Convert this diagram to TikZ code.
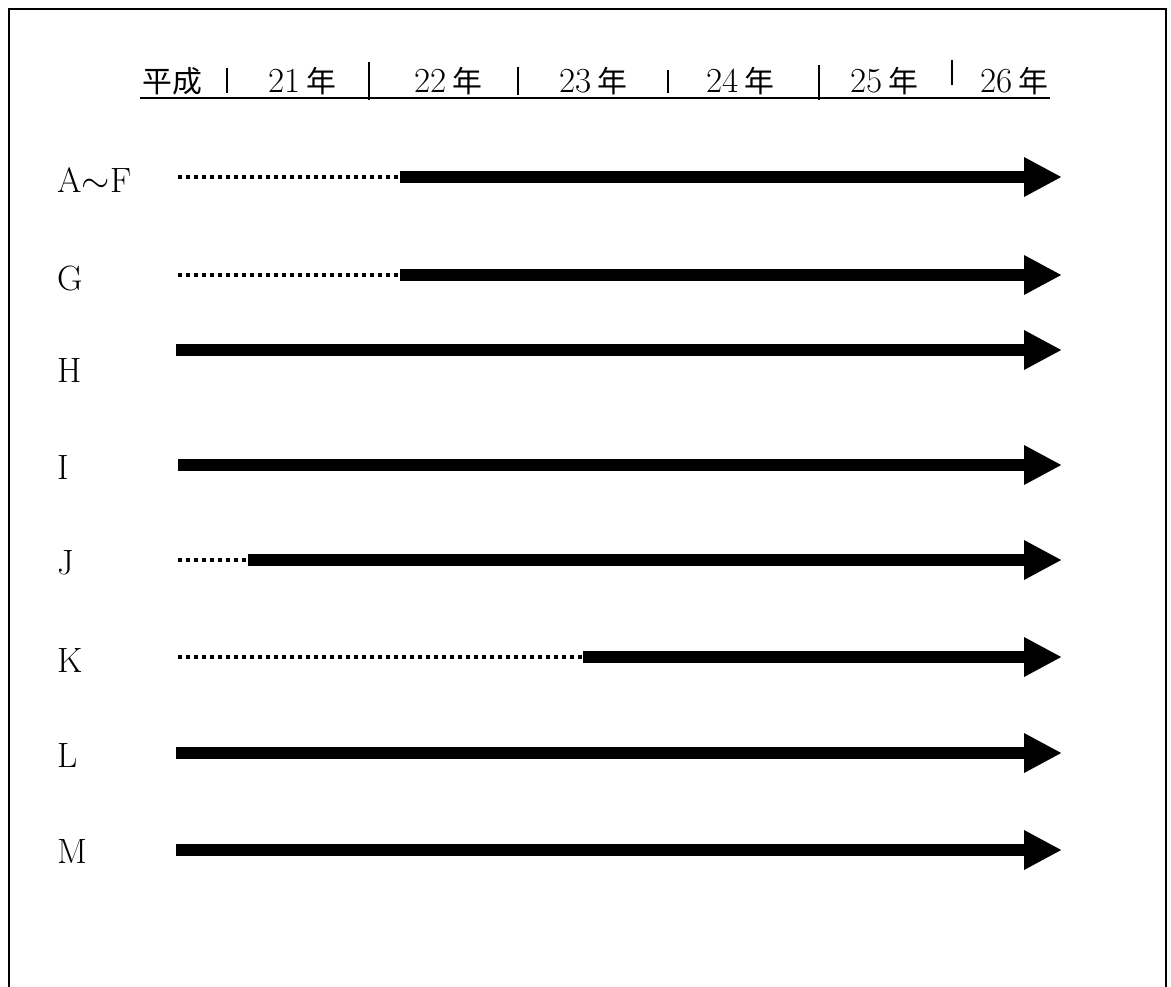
\documentclass[tikz,border=0pt]{standalone}
\usepackage{fontspec}
\newfontfamily\jp{Noto Sans CJK JP}
\usetikzlibrary{arrows.meta}

\begin{document}
\begin{tikzpicture}[x=0.02cm, y=-0.02cm,
    plan/.style={line width=0.24cm, -{Triangle[length=0.76cm, width=0.74cm]}},
    prep/.style={line width=0.08cm, dash pattern=on 0.08cm off 0.08cm},
    row/.style={anchor=west, inner sep=0pt, font=\fontsize{20}{20}\selectfont},
    year/.style={anchor=base, inner sep=0pt, font=\fontsize{20}{20}\selectfont}]
  \useasboundingbox (0,0) rectangle (1171,987);
  % frame, open at the bottom
  \draw[line width=1.2pt] (9,987) -- (9,9) -- (1166,9) -- (1166,987);

  % year header
  \node[year] (era) at (172,92) {\jp\fontsize{17}{17}\selectfont 平成};
  \foreach \n/\yr/\x in {y21/21/302, y22/22/448, y23/23/593, y24/24/740, y25/25/884, y26/26/1014}
    \node[year] (\n) at (\x,92) {\yr\,{\jp\fontsize{17}{17}\selectfont 年}};
  \foreach \x/\a/\b in {227/68/93, 369/62/100, 518/67/95, 668/70/93, 819/65/100, 952/60/85}
    \draw[line width=1.4pt] (\x,\a) -- (\x,\b);
  \draw[line width=1pt] (140,98) -- (1050,98);

  % one row per item: label, then the bar up to 26
  \foreach \n/\t/\ty/\y/\s in {af/{A$\sim$F}/180/177/400, g/G/278/275/400, h/H/370/350/176,
      i/I/467/465/178, j/J/563/560/248, k/K/660/657/583, l/L/755/753/176, m/M/851/850/176}{
    \node[row] (\n) at (57,\ty) {\t};
    \coordinate (\n-0) at (178,\y);
    \coordinate (\n-s) at (\s,\y);
    \coordinate (\n-e) at (1062,\y);
    \draw[plan] (\n-s) -- (\n-e);
  }
  % dotted lead-in before the start
  \foreach \n in {af,g,j,k}
    \draw[prep] (\n-0) -- (\n-s);
\end{tikzpicture}
\end{document}
